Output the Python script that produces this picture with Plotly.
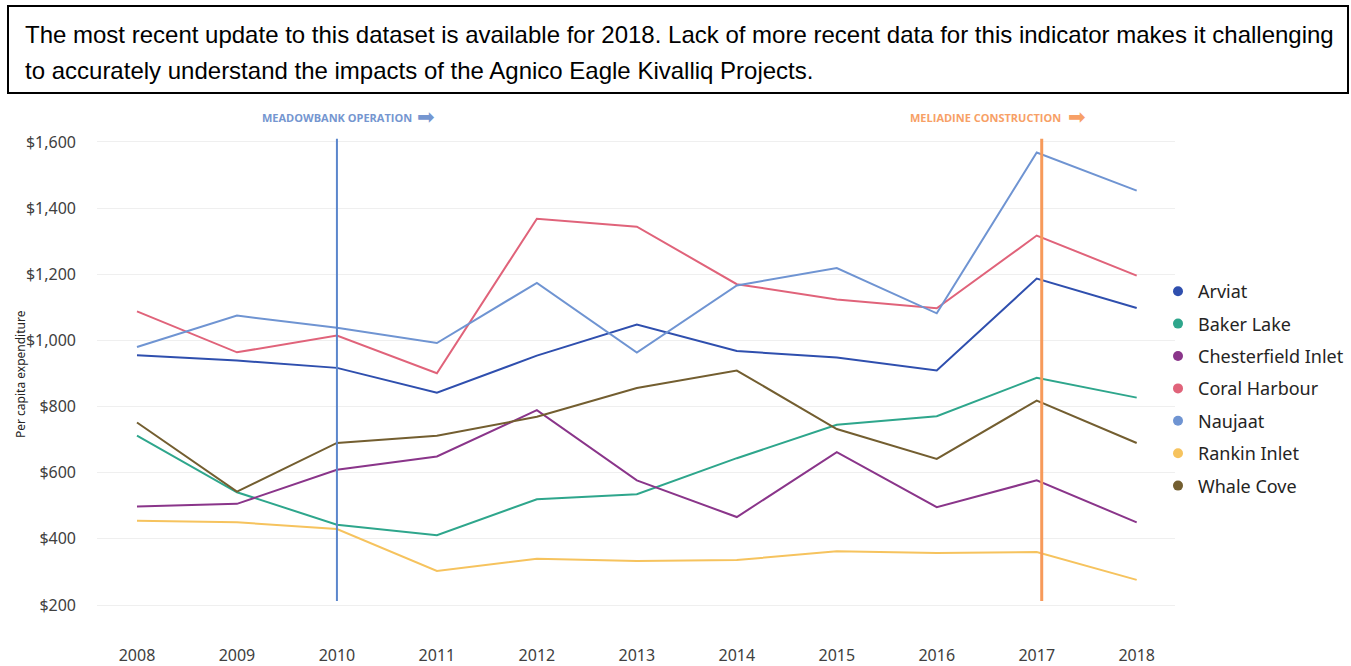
import plotly.graph_objects as go

# Per capita expenditure by Kivalliq community, 2008-2018
years = [2008, 2009, 2010, 2011, 2012, 2013, 2014, 2015, 2016, 2017, 2018]

arviat = [955, 939, 917, 842, 954, 1048, 968, 948, 909, 1187, 1098]
baker_lake = [712, 541, 443, 411, 520, 535, 644, 745, 771, 887, 827]
chesterfield_inlet = [498, 506, 609, 649, 789, 577, 466, 662, 496, 577, 450]
coral_harbour = [1088, 964, 1015, 901, 1368, 1344, 1170, 1124, 1097, 1317, 1196]
naujaat = [980, 1075, 1038, 992, 1174, 963, 1166, 1219, 1082, 1568, 1453]
rankin_inlet = [455, 450, 430, 303, 340, 333, 336, 363, 357, 360, 276]
whale_cove = [752, 543, 690, 712, 769, 856, 909, 732, 642, 818, 690]

communities = ["Arviat", "Baker Lake", "Chesterfield Inlet", "Coral Harbour",
               "Naujaat", "Rankin Inlet", "Whale Cove"]
series = [arviat, baker_lake, chesterfield_inlet, coral_harbour,
          naujaat, rankin_inlet, whale_cove]
colors = ["#2F4FAE", "#2EA68C", "#8A358A", "#E0637A",
          "#6F94D2", "#F6C35E", "#735E30"]

y_ticks = [200, 400, 600, 800, 1000, 1200, 1400, 1600]
y_tick_text = ["$200", "$400", "$600", "$800", "$1,000", "$1,200", "$1,400", "$1,600"]

milestone_years = [2010, 2017.05]
milestone_colors = ["#5B86CC", "#F79A5A"]
milestone_widths = [2, 3]

note_lines = [
    "The most recent update to this dataset is available for 2018. Lack of more recent data for this indicator makes it challenging",
    "to accurately understand the impacts of the Agnico Eagle Kivalliq Projects.",
]

# Plot-area geometry in pixels
W, H = 1351, 666
L, R, T, B = 97, 176, 135, 55
PW, PH = W - L - R, H - T - B


def px_x(px):
    return (px - L) / PW


def px_y(py):
    return (H - B - py) / PH


fig = go.Figure()

for name, vals, col in zip(communities, series, colors):
    fig.add_trace(go.Scatter(
        x=years, y=vals, mode="lines", name=name,
        line=dict(color=col, width=2),
        legendgroup=name, showlegend=False,
    ))
    # dot-style legend entry
    fig.add_trace(go.Scatter(
        x=[None], y=[None], mode="markers", name=name,
        marker=dict(color=col, size=10),
        legendgroup=name, showlegend=True,
    ))

shapes = []
annotations = []
for yr, col, wd in zip(milestone_years, milestone_colors, milestone_widths):
    shapes.append(dict(type="line", xref="x", yref="y",
                       x0=yr, x1=yr, y0=212, y1=1610,
                       line=dict(color=col, width=wd)))

# milestone captions with arrows
blue_txt, orange_txt = "#7596D0", "#F7A066"
annotations.append(dict(xref="x", yref="paper", x=2010, y=px_y(118),
                        text="<b>MEADOWBANK OPERATION</b>", showarrow=False,
                        xanchor="center", yanchor="middle",
                        font=dict(family="Open Sans", size=11, color=blue_txt)))
annotations.append(dict(xref="paper", yref="paper", x=px_x(415), y=px_y(117),
                        text="➡", showarrow=False, xanchor="left", yanchor="middle",
                        font=dict(family="DejaVu Sans", size=21, color=blue_txt)))
annotations.append(dict(xref="paper", yref="paper", x=px_x(1063), y=px_y(118),
                        text="<b>MELIADINE CONSTRUCTION</b>", showarrow=False,
                        xanchor="right", yanchor="middle",
                        font=dict(family="Open Sans", size=11, color=orange_txt)))
annotations.append(dict(xref="paper", yref="paper", x=px_x(1066), y=px_y(117),
                        text="➡", showarrow=False, xanchor="left", yanchor="middle",
                        font=dict(family="DejaVu Sans", size=21, color=orange_txt)))

# note box above the chart
shapes.append(dict(type="rect", xref="paper", yref="paper",
                   x0=px_x(8), x1=px_x(1348), y0=px_y(93), y1=px_y(6),
                   line=dict(color="black", width=2), fillcolor="rgba(0,0,0,0)"))
for txt, py in zip(note_lines, [34, 70]):
    annotations.append(dict(xref="paper", yref="paper", x=px_x(23), y=px_y(py),
                            text=txt, showarrow=False, xanchor="left", yanchor="middle",
                            font=dict(family="Liberation Sans", size=24, color="black")))

# y-axis title
annotations.append(dict(xref="paper", yref="paper", x=px_x(20), y=px_y(374),
                        text="Per capita expenditure", textangle=-90, showarrow=False,
                        xanchor="center", yanchor="middle",
                        font=dict(family="Noto Sans", size=12, color="#252423")))

fig.update_layout(
    width=W, height=H,
    margin=dict(l=L, r=R, t=T, b=B, pad=0, autoexpand=False),
    paper_bgcolor="white", plot_bgcolor="white",
    shapes=shapes, annotations=annotations,
    legend=dict(x=px_x(1158), y=px_y(273), xanchor="left", yanchor="top",
                font=dict(family="Noto Sans", size=18, color="#252423"),
                tracegroupgap=6, itemclick=False, bgcolor="rgba(0,0,0,0)"),
    xaxis=dict(range=[2007.6, 2007.6 + PW / 99.97], tickmode="array", tickvals=years,
               ticktext=[str(y) for y in years], showgrid=False, zeroline=False,
               showline=False, ticks="", ticklabelstandoff=33, automargin=False,
               tickfont=dict(family="Noto Sans", size=16, color="#404040")),
    yaxis=dict(range=[182, 1621], tickmode="array", tickvals=y_ticks, ticktext=y_tick_text,
               showgrid=True, gridcolor="#EFEFEF", gridwidth=1, zeroline=False,
               showline=False, ticks="", ticklabelstandoff=20, automargin=False,
               tickfont=dict(family="Noto Sans", size=16, color="#404040")),
    showlegend=True,
)

fig.write_html("out.html")
